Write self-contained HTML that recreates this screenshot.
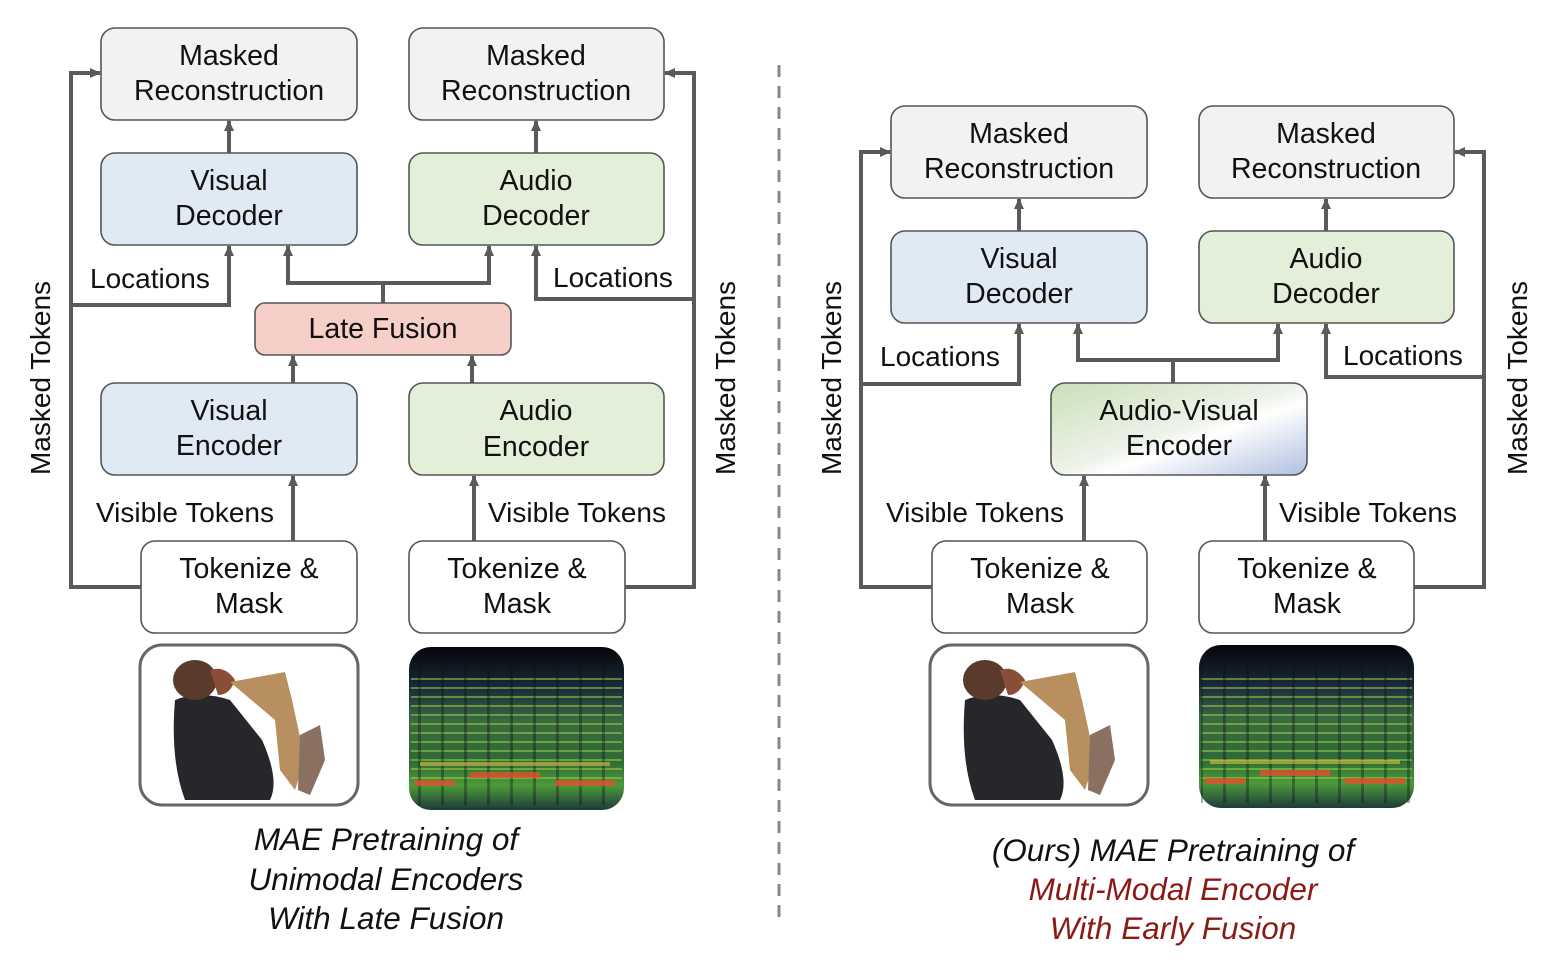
<!DOCTYPE html>
<html><head><meta charset="utf-8"><style>
html,body{margin:0;padding:0;background:#fff;}
svg{display:block;font-family:"Liberation Sans",sans-serif;}
.t{font-size:28.5px;fill:#111;text-anchor:middle;}
.l{font-size:28px;fill:#111;}
.c{font-size:31.5px;font-style:italic;text-anchor:middle;fill:#111;}
.ln{stroke:#5a5a5a;stroke-width:4;fill:none;}
.bx{stroke:#555;stroke-width:1.6;}
</style></head><body>
<svg width="1566" height="964" viewBox="0 0 1566 964" xmlns="http://www.w3.org/2000/svg">
<defs>
<marker id="a" markerWidth="12" markerHeight="12" refX="10" refY="6" orient="auto" markerUnits="userSpaceOnUse"><path d="M0,1 L11,6 L0,11 z" fill="#5a5a5a"/></marker>
<linearGradient id="av" x1="0" y1="0" x2="1" y2="1">
<stop offset="0" stop-color="#c9e0b8"/><stop offset="0.5" stop-color="#eef3ea"/><stop offset="0.6" stop-color="#ffffff"/><stop offset="1" stop-color="#aebfdf"/></linearGradient>
<linearGradient id="sp" x1="0" y1="0" x2="0" y2="1">
<stop offset="0" stop-color="#050608"/><stop offset="0.25" stop-color="#1a2a3a"/><stop offset="0.45" stop-color="#3a6a40"/><stop offset="0.7" stop-color="#2f6a35"/><stop offset="0.85" stop-color="#4c9a3a"/><stop offset="1" stop-color="#1e3a3a"/></linearGradient>
<pattern id="hl" width="8" height="9" patternUnits="userSpaceOnUse"><rect width="8" height="2" y="3" fill="#9ad04a" opacity="0.55"/></pattern>
<pattern id="vl" width="23" height="10" patternUnits="userSpaceOnUse"><rect width="3" height="10" x="4" fill="#0a1018" opacity="0.35"/></pattern>
</defs>

<line x1="779" y1="65" x2="779" y2="922" stroke="#888" stroke-width="3" stroke-dasharray="12,9"/>

<polyline class="ln" points="141,587 71,587 71,73 100,73" marker-end="url(#a)"/>
<polyline class="ln" points="71,305 229,305 229,246" marker-end="url(#a)"/>
<polyline class="ln" points="625,587 694,587 694,73 665,73" marker-end="url(#a)"/>
<polyline class="ln" points="694,299 536,299 536,246" marker-end="url(#a)"/>
<line class="ln" x1="229" y1="153" x2="229" y2="121" marker-end="url(#a)"/>
<line class="ln" x1="536" y1="153" x2="536" y2="121" marker-end="url(#a)"/>
<polyline class="ln" points="383,303 383,283 288,283 288,246" marker-end="url(#a)"/>
<polyline class="ln" points="383,283 489,283 489,246" marker-end="url(#a)"/>
<line class="ln" x1="293" y1="383" x2="293" y2="356" marker-end="url(#a)"/>
<line class="ln" x1="472" y1="383" x2="472" y2="356" marker-end="url(#a)"/>
<line class="ln" x1="293" y1="541" x2="293" y2="476" marker-end="url(#a)"/>
<line class="ln" x1="474" y1="541" x2="474" y2="476" marker-end="url(#a)"/>

<rect class="bx" x="101" y="28" width="256" height="92" rx="14" fill="#f2f2f2"/>
<rect class="bx" x="409" y="28" width="255" height="92" rx="14" fill="#f2f2f2"/>
<rect class="bx" x="101" y="153" width="256" height="92" rx="14" fill="#e0eaf5"/>
<rect class="bx" x="409" y="153" width="255" height="92" rx="14" fill="#e3efd9"/>
<rect class="bx" x="255" y="303" width="256" height="52" rx="10" fill="#f6cfc8"/>
<rect class="bx" x="101" y="383" width="256" height="92" rx="14" fill="#e0eaf5"/>
<rect class="bx" x="409" y="383" width="255" height="92" rx="14" fill="#e3efd9"/>
<rect class="bx" x="141" y="541" width="216" height="92" rx="14" fill="#fff"/>
<rect class="bx" x="409" y="541" width="216" height="92" rx="14" fill="#fff"/>

<text class="t" x="229" y="65">Masked</text><text class="t" x="229" y="100">Reconstruction</text>
<text class="t" x="536" y="65">Masked</text><text class="t" x="536" y="100">Reconstruction</text>
<text class="t" x="229" y="190">Visual</text><text class="t" x="229" y="225">Decoder</text>
<text class="t" x="536" y="190">Audio</text><text class="t" x="536" y="225">Decoder</text>
<text class="t" x="383" y="338">Late Fusion</text>
<text class="t" x="229" y="420">Visual</text><text class="t" x="229" y="455">Encoder</text>
<text class="t" x="536" y="420">Audio</text><text class="t" x="536" y="456">Encoder</text>
<text class="t" x="249" y="578">Tokenize &amp;</text><text class="t" x="249" y="613">Mask</text>
<text class="t" x="517" y="578">Tokenize &amp;</text><text class="t" x="517" y="613">Mask</text>

<text class="l" x="90" y="288">Locations</text>
<text class="l" x="553" y="287">Locations</text>
<text class="l" x="96" y="522">Visible Tokens</text>
<text class="l" x="488" y="522">Visible Tokens</text>
<text class="l" transform="translate(50,378) rotate(-90)" text-anchor="middle">Masked Tokens</text>
<text class="l" transform="translate(735,378) rotate(-90)" text-anchor="middle">Masked Tokens</text>

<polyline class="ln" points="932,587 861,587 861,152 890,152" marker-end="url(#a)"/>
<polyline class="ln" points="861,384 1019,384 1019,324" marker-end="url(#a)"/>
<polyline class="ln" points="1414,587 1484,587 1484,152 1455,152" marker-end="url(#a)"/>
<polyline class="ln" points="1484,377 1326,377 1326,324" marker-end="url(#a)"/>
<line class="ln" x1="1019" y1="231" x2="1019" y2="199" marker-end="url(#a)"/>
<line class="ln" x1="1326" y1="231" x2="1326" y2="199" marker-end="url(#a)"/>
<polyline class="ln" points="1173,383 1173,360 1078,360 1078,324" marker-end="url(#a)"/>
<polyline class="ln" points="1173,360 1278,360 1278,324" marker-end="url(#a)"/>
<line class="ln" x1="1084" y1="541" x2="1084" y2="476" marker-end="url(#a)"/>
<line class="ln" x1="1265" y1="541" x2="1265" y2="476" marker-end="url(#a)"/>

<rect class="bx" x="891" y="106" width="256" height="92" rx="14" fill="#f2f2f2"/>
<rect class="bx" x="1199" y="106" width="255" height="92" rx="14" fill="#f2f2f2"/>
<rect class="bx" x="891" y="231" width="256" height="92" rx="14" fill="#e0eaf5"/>
<rect class="bx" x="1199" y="231" width="255" height="92" rx="14" fill="#e3efd9"/>
<rect class="bx" x="1051" y="383" width="256" height="92" rx="14" fill="url(#av)"/>
<rect class="bx" x="932" y="541" width="215" height="92" rx="14" fill="#fff"/>
<rect class="bx" x="1199" y="541" width="215" height="92" rx="14" fill="#fff"/>

<text class="t" x="1019" y="143">Masked</text><text class="t" x="1019" y="178">Reconstruction</text>
<text class="t" x="1326" y="143">Masked</text><text class="t" x="1326" y="178">Reconstruction</text>
<text class="t" x="1019" y="268">Visual</text><text class="t" x="1019" y="303">Decoder</text>
<text class="t" x="1326" y="268">Audio</text><text class="t" x="1326" y="303">Decoder</text>
<text class="t" x="1179" y="420">Audio-Visual</text><text class="t" x="1179" y="455">Encoder</text>
<text class="t" x="1040" y="578">Tokenize &amp;</text><text class="t" x="1040" y="613">Mask</text>
<text class="t" x="1307" y="578">Tokenize &amp;</text><text class="t" x="1307" y="613">Mask</text>

<text class="l" x="880" y="366">Locations</text>
<text class="l" x="1343" y="365">Locations</text>
<text class="l" x="886" y="522">Visible Tokens</text>
<text class="l" x="1279" y="522">Visible Tokens</text>
<text class="l" transform="translate(841,378) rotate(-90)" text-anchor="middle">Masked Tokens</text>
<text class="l" transform="translate(1527,378) rotate(-90)" text-anchor="middle">Masked Tokens</text>

<g>
<rect x="140" y="645" width="218" height="160" rx="22" fill="#fff" stroke="#666" stroke-width="3"/>
<path d="M175,700 Q200,690 230,700 L262,740 Q280,780 270,800 L185,800 Q170,760 175,700z" fill="#26272b"/>
<ellipse cx="195" cy="680" rx="22" ry="20" fill="#5a3a2a"/>
<path d="M210,670 Q225,665 235,680 Q230,695 218,695z" fill="#8a4e38"/>
<path d="M230,682 L285,672 L292,700 L305,760 L295,790 L280,770 L275,720z" fill="#b89060"/>
<path d="M300,735 L320,725 L325,760 L310,795 L298,790z" fill="#8a7060"/>
</g>
<g>
<rect x="930" y="645" width="218" height="160" rx="22" fill="#fff" stroke="#666" stroke-width="3"/>
<path d="M965,700 Q990,690 1020,700 L1052,740 Q1070,780 1060,800 L975,800 Q960,760 965,700z" fill="#26272b"/>
<ellipse cx="985" cy="680" rx="22" ry="20" fill="#5a3a2a"/>
<path d="M1000,670 Q1015,665 1025,680 Q1020,695 1008,695z" fill="#8a4e38"/>
<path d="M1020,682 L1075,672 L1082,700 L1095,760 L1085,790 L1070,770 L1065,720z" fill="#b89060"/>
<path d="M1090,735 L1110,725 L1115,760 L1100,795 L1088,790z" fill="#8a7060"/>
</g>

<g>
<rect x="409" y="647" width="215" height="163" rx="22" fill="url(#sp)"/>
<rect x="411" y="675" width="211" height="110" fill="url(#hl)"/>
<rect x="411" y="665" width="211" height="140" fill="url(#vl)"/>
<rect x="415" y="780" width="40" height="6" fill="#e0502a" opacity="0.8"/>
<rect x="470" y="772" width="70" height="6" fill="#e0502a" opacity="0.8"/>
<rect x="555" y="780" width="60" height="6" fill="#e0502a" opacity="0.8"/>
<rect x="420" y="762" width="190" height="4" fill="#e0c040" opacity="0.6"/>
</g>
<g>
<rect x="1199" y="645" width="215" height="163" rx="22" fill="url(#sp)"/>
<rect x="1201" y="673" width="211" height="110" fill="url(#hl)"/>
<rect x="1201" y="663" width="211" height="140" fill="url(#vl)"/>
<rect x="1205" y="778" width="40" height="6" fill="#e0502a" opacity="0.8"/>
<rect x="1260" y="770" width="70" height="6" fill="#e0502a" opacity="0.8"/>
<rect x="1345" y="778" width="60" height="6" fill="#e0502a" opacity="0.8"/>
<rect x="1210" y="760" width="190" height="4" fill="#e0c040" opacity="0.6"/>
</g>

<text class="c" x="386" y="850">MAE Pretraining of</text>
<text class="c" x="386" y="890">Unimodal Encoders</text>
<text class="c" x="386" y="929">With Late Fusion</text>
<text class="c" x="1173" y="861">(Ours) MAE Pretraining of</text>
<text class="c" x="1173" y="900" style="fill:#8b1a14">Multi-Modal Encoder</text>
<text class="c" x="1173" y="939" style="fill:#8b1a14">With Early Fusion</text>
</svg>
</body></html>
